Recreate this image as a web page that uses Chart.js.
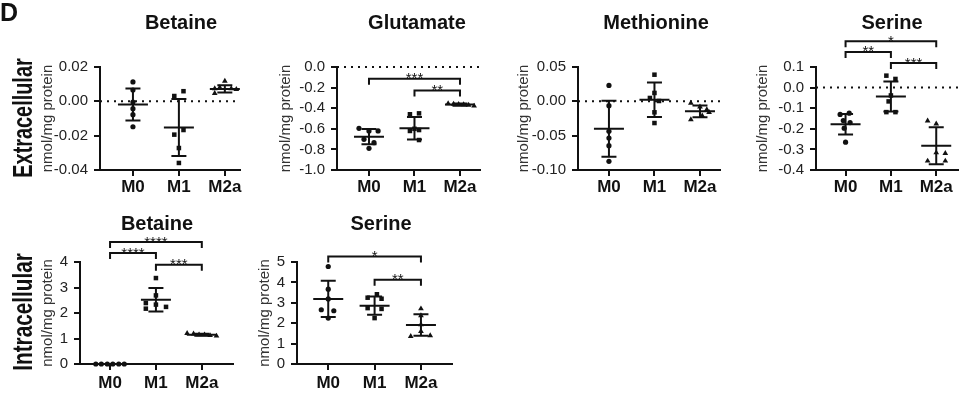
<!DOCTYPE html>
<html>
<head>
<meta charset="utf-8">
<script src="https://cdn.jsdelivr.net/npm/chart.js@4.4.1/dist/chart.umd.min.js"></script>
<style>
body{margin:0;background:#fff;font-family:"Liberation Sans",Arial,sans-serif}
#fig{position:relative;width:962px;height:395px;overflow:hidden;background:#fff}
#fig canvas{position:absolute;left:0;top:0}
.t{position:absolute;font-weight:bold;color:#111;white-space:nowrap}
.ttl{font-size:20px;line-height:20px;transform:translateX(-50%)}
.side{font-size:28px;line-height:28px}
</style>
</head>
<body>
<div id="fig">
<canvas id="c1" width="962" height="395"></canvas>
<canvas id="c2" width="962" height="395"></canvas>
<canvas id="c3" width="962" height="395"></canvas>
<canvas id="c4" width="962" height="395"></canvas>
<canvas id="c5" width="962" height="395"></canvas>
<canvas id="c6" width="962" height="395"></canvas>
<div class="t" style="left:0;top:0;font-size:25px;line-height:25px">D</div>
<div class="t ttl" style="left:181px;top:12px">Betaine</div>
<div class="t ttl" style="left:417px;top:12px">Glutamate</div>
<div class="t ttl" style="left:656px;top:12px">Methionine</div>
<div class="t ttl" style="left:892px;top:12px">Serine</div>
<div class="t ttl" style="left:157px;top:213px">Betaine</div>
<div class="t ttl" style="left:381px;top:213px">Serine</div>
<div class="t side" style="left:22.5px;top:117.5px;transform:translate(-50%,-50%) rotate(-90deg) scaleX(0.71)">Extracellular</div>
<div class="t side" style="left:22.5px;top:311.5px;transform:translate(-50%,-50%) rotate(-90deg) scaleX(0.74)">Intracellular</div>
</div>
<script>
const FONT = "'Liberation Sans', Arial, sans-serif"

const groups = ["M0", "M1", "M2a"]

// extracellular, nmol/mg protein
const betaineExt = [
[0.0113, 0.0066, -0.0004, -0.0043, -0.0078, -0.0148],
[0.0059, 0.0031, -0.0167, -0.0194, -0.0272, -0.0359],
[0.0118, 0.0080, 0.0074, 0.0074, 0.0070, 0.0047]
]
const betaineExtMean = [-0.0018, -0.0152, 0.0072]
const betaineExtSD = [0.0093, 0.0166, 0.0021]
const betaineExtTicks = [0.02, 0, -0.02, -0.04]
const betaineExtSig = []

const glutamateExt = [
[-0.595, -0.621, -0.621, -0.702, -0.735, -0.790],
[-0.450, -0.459, -0.600, -0.612, -0.621, -0.709],
[-0.355, -0.360, -0.362, -0.365, -0.370, -0.378]
]
const glutamateExtMean = [-0.676, -0.595, -0.365]
const glutamateExtSD = [0.075, 0.110, 0.010]
const glutamateExtTicks = [0, -0.2, -0.4, -0.6, -0.8, -1.0]
const glutamateExtSig = [[0, 2, -0.115, "***"], [1, 2, -0.228, "**"]]

const methionineExt = [
[0.0232, -0.0063, -0.0437, -0.0534, -0.0646, -0.0874],
[0.0388, 0.0122, 0.0049, 0.0005, -0.0160, -0.0316],
[-0.0025, -0.0080, -0.0120, -0.0160, -0.0210, -0.0267]
]
const methionineExtMean = [-0.0398, 0.0024, -0.0146]
const methionineExtSD = [0.0408, 0.0252, 0.0085]
const methionineExtTicks = [0.05, 0, -0.05, -0.10]
const methionineExtSig = []

const serineExt = [
[-0.124, -0.130, -0.160, -0.170, -0.197, -0.265],
[0.058, 0.042, -0.038, -0.067, -0.119, -0.119],
[-0.161, -0.176, -0.316, -0.319, -0.356, -0.356]
]
const serineExtMean = [-0.178, -0.043, -0.282]
const serineExtSD = [0.050, 0.073, 0.090]
const serineExtTicks = [0.1, 0, -0.1, -0.2, -0.3, -0.4]
const serineExtSig = [[0, 2, 0.225, "*"], [0, 1, 0.173, "**"], [1, 2, 0.119, "***"]]

// intracellular, nmol/mg protein
const betaineInt = [
[0, 0, 0, 0, 0, 0],
[3.37, 2.69, 2.39, 2.33, 2.24, 2.17],
[1.20, 1.18, 1.15, 1.15, 1.12, 1.10]
]
const betaineIntMean = [0, 2.52, 1.15]
const betaineIntSD = [0, 0.46, 0.04]
const betaineIntTicks = [4, 3, 2, 1, 0]
const betaineIntSig = [[0, 2, 4.78, "****"], [0, 1, 4.35, "****"], [1, 2, 3.89, "***"]]

const serineInt = [
[4.78, 3.67, 3.19, 2.66, 2.61, 2.25],
[3.42, 3.25, 3.20, 2.74, 2.70, 2.25],
[2.71, 2.37, 1.93, 1.60, 1.39, 1.36]
]
const serineIntMean = [3.19, 2.86, 1.91]
const serineIntSD = [0.89, 0.45, 0.53]
const serineIntTicks = [5, 4, 3, 2, 1, 0]
const serineIntSig = [[0, 2, 5.27, "*"], [1, 2, 4.13, "**"]]

// horizontal spread of the dots (style only, category units)
const jit1 = [[0,0,0,0,0,0],[0.1,-0.1,0.1,-0.1,0,0],[0,-0.11,-0.22,0.14,0.25,-0.22]]
const jit2 = [[-0.22,0,0.2,-0.11,0.11,0],[0.1,-0.1,0,0.1,-0.1,0.1],[-0.26,-0.14,-0.03,0.08,0.19,0.31]]
const jit3 = [[0,0,0,0,0,0],[0,0,-0.1,0.1,0,0],[-0.2,0,0.15,0.2,0.05,-0.2]]
const jit4 = [[0.08,-0.12,-0.05,0.1,-0.03,0],[-0.1,0.1,0,-0.05,-0.1,0.1],[-0.19,0,0,0.2,-0.19,0.2]]
const jit5 = [[-0.31,-0.19,-0.06,0.06,0.19,0.31],[0,0,-0.22,0,0.22,-0.22],[-0.32,-0.18,-0.06,0.06,0.18,0.32]]
const jit6 = [[0,0,0,-0.15,0.12,0],[0.05,-0.15,0.15,-0.15,0.15,0],[0,0,0,0,0.2,-0.22]]

const marks = ["circle", "rect", "triangle"]
const markSize = [2.6, 3.2, 3.3]

const panels = [
{id:"c1", data:betaineExt, mean:betaineExtMean, sd:betaineExtSD, ticks:betaineExtTicks, sig:betaineExtSig, jit:jit1, dec:2, zero:true,
 axisX:100, titleX:47.5, top:67, bottom:170, right:240, xmin:-0.717, xmax:2.33, labPad:1},
{id:"c2", data:glutamateExt, mean:glutamateExtMean, sd:glutamateExtSD, ticks:glutamateExtTicks, sig:glutamateExtSig, jit:jit2, dec:1, zero:true,
 axisX:337, titleX:286, top:67, bottom:170, right:480, xmin:-0.703, xmax:2.44, labPad:1},
{id:"c3", data:methionineExt, mean:methionineExtMean, sd:methionineExtSD, ticks:methionineExtTicks, sig:methionineExtSig, jit:jit3, dec:2, zero:true,
 axisX:578, titleX:524, top:67, bottom:170, right:720, xmin:-0.68, xmax:2.44, labPad:1},
{id:"c4", data:serineExt, mean:serineExtMean, sd:serineExtSD, ticks:serineExtTicks, sig:serineExtSig, jit:jit4, dec:1, zero:true,
 axisX:816, titleX:763, top:67, bottom:170, right:960, xmin:-0.652, xmax:2.48, labPad:1},
{id:"c5", data:betaineInt, mean:betaineIntMean, sd:betaineIntSD, ticks:betaineIntTicks, sig:betaineIntSig, jit:jit5, dec:0, zero:false,
 axisX:80, titleX:48, top:262, bottom:364, right:233, xmin:-0.655, xmax:2.68, labPad:3},
{id:"c6", data:serineInt, mean:serineIntMean, sd:serineIntSD, ticks:serineIntTicks, sig:serineIntSig, jit:jit6, dec:0, zero:false,
 axisX:297, titleX:265, top:262, bottom:364, right:452, xmin:-0.674, xmax:2.67, labPad:3}
]

function extras(p){
return {
id:"extras",
afterDatasetsDraw(chart){
const ctx = chart.ctx
const x = chart.scales.x
const y = chart.scales.y
ctx.save()
ctx.strokeStyle = "#111"
ctx.fillStyle = "#111"
ctx.lineWidth = 2
p.mean.forEach((m,g)=>{
if(p.sd[g] === 0) return
const cx = x.getPixelForValue(g)
const cy = y.getPixelForValue(m)
const t = y.getPixelForValue(m + p.sd[g])
const b = y.getPixelForValue(m - p.sd[g])
ctx.beginPath()
ctx.moveTo(cx-15,cy); ctx.lineTo(cx+15,cy)
ctx.moveTo(cx,t); ctx.lineTo(cx,b)
ctx.moveTo(cx-7.5,t); ctx.lineTo(cx+7.5,t)
ctx.moveTo(cx-7.5,b); ctx.lineTo(cx+7.5,b)
ctx.stroke()
})
ctx.font = "15px " + FONT
ctx.textAlign = "center"
ctx.textBaseline = "alphabetic"
p.sig.forEach(s=>{
const xa = x.getPixelForValue(s[0])
const xb = x.getPixelForValue(s[1])
const yy = y.getPixelForValue(s[2])
ctx.beginPath()
ctx.moveTo(xa,yy+6); ctx.lineTo(xa,yy); ctx.lineTo(xb,yy); ctx.lineTo(xb,yy+6)
ctx.stroke()
ctx.fillText(s[3],(xa+xb)/2,yy+4.5)
})
ctx.restore()
}
}
}

function axisStyle(){
return {
grid:{display:true, drawOnChartArea:false, drawTicks:true, tickLength:6, color:"#111", lineWidth:2},
border:{display:true, color:"#111", width:2}
}
}

function makeChart(p){

const sets = p.data.map((vals,g)=>({
type:"scatter",
data: vals.map((v,i)=>({x:g + p.jit[g][i], y:v})),
pointStyle: marks[g],
pointRadius: markSize[g],
backgroundColor:"#111",
borderColor:"#111",
borderWidth:0,
clip:false
}))

if(p.zero){
sets.unshift({
type:"line",
data:[{x:p.xmin,y:0},{x:p.xmax,y:0}],
borderColor:"#111",
borderWidth:2,
borderDash:[2,5],
pointRadius:0,
clip:false
})
}

const boxLeft = p.titleX - 9

new Chart(document.getElementById(p.id),{
type:"scatter",
data:{datasets:sets},
options:{
responsive:false,
animation:false,
devicePixelRatio:1,
events:[],
layout:{padding:{left:boxLeft, top:p.top, right:962-p.right, bottom:395-p.bottom-30}},
plugins:{legend:{display:false}, tooltip:{enabled:false}},
scales:{
x:{
type:"linear",
min:p.xmin,
max:p.xmax,
bounds:"data",
afterBuildTicks: s=>{ s.ticks = groups.map((g,i)=>({value:i})) },
afterFit: s=>{ s.height = 30 },
ticks:{callback: v=>groups[v], font:{family:FONT, size:17, weight:"bold"}, color:"#111", padding:p.labPad, maxRotation:0, autoSkip:false},
...axisStyle()
},
y:{
type:"linear",
min:Math.min(...p.ticks),
max:Math.max(...p.ticks),
afterBuildTicks: s=>{ s.ticks = p.ticks.map(v=>({value:v})) },
afterFit: s=>{ s.width = p.axisX - boxLeft },
ticks:{callback: v=>v.toFixed(p.dec), font:{family:FONT, size:15}, color:"#222", padding:6, autoSkip:false},
title:{display:true, text:"nmol/mg protein", font:{family:FONT, size:15}, color:"#333", padding:0},
...axisStyle()
}
}
},
plugins:[extras(p)]
})

}

panels.forEach(makeChart)
</script>
</body>
</html>
